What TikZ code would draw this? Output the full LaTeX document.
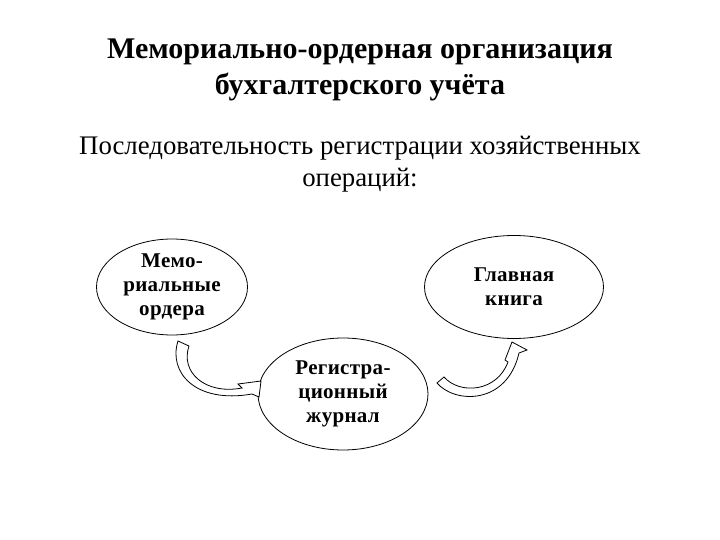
\documentclass[tikz,border=0pt]{standalone}
\usepackage{fontspec}
\setmainfont{Liberation Serif}
\newfontfamily\ovalfont[LetterSpace=1.5]{Liberation Serif}
\usetikzlibrary{shapes.geometric}
\tikzset{
  oval/.style={draw, ellipse, line width=0.8pt, inner sep=0pt, align=center,
    font=\ovalfont\fontsize{21}{24}\selectfont\bfseries},
  blockarrow/.style={draw, fill=white, line width=0.8pt, line join=miter},
}
\begin{document}
\begin{tikzpicture}[x=1pt,y=-1pt]
\useasboundingbox (0,0) rectangle (720,540);
\node[align=center, font=\fontsize{30}{36}\selectfont\bfseries] (title) at (360,70)
  {Мемориально-ордерная организация\\бухгалтерского учёта};
\node[align=center, font=\fontsize{26.8}{32}\selectfont] (sub) at (360,164)
  {Последовательность регистрации хозяйственных\\операций:};
\node[oval, minimum width=151pt, minimum height=96pt] (mo) at (172,287)
  {Мемо-\\риальные\\ордера};
\node[oval, minimum width=179pt, minimum height=103pt] (gk) at (514,287)
  {Главная\\книга};
\node[oval, minimum width=170pt, minimum height=112pt] (rj) at (343,394)
  {Регистра-\\ционный\\журнал};
% left curved block arrow
\draw[blockarrow] (178,341) .. controls (168,372) and (195,404) .. (252,394)
  -- (259,397) -- (261,381) -- (238,384) -- (242,388)
  .. controls (205,395) and (180,372) .. (189,346) -- cycle;
% right curved block arrow
\draw[blockarrow] (437,383) .. controls (455,404) and (507,405) .. (519,353)
  -- (527,350) -- (512,342) -- (505,360) -- (508,362)
  .. controls (497,392) and (460,395) .. (444,377) -- cycle;
\end{tikzpicture}
\end{document}
